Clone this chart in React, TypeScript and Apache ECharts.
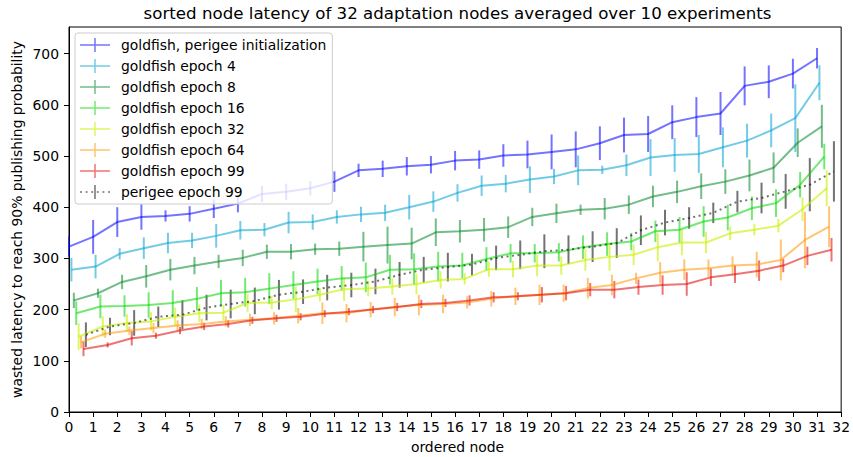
import React, { useEffect, useRef } from "react";
import * as echarts from "echarts";

const seriesNames = [
  "goldfish, perigee initialization",
  "goldfish epoch 4",
  "goldfish epoch 8",
  "goldfish epoch 16",
  "goldfish epoch 32",
  "goldfish epoch 64",
  "goldfish epoch 99",
  "perigee epoch 99",
];

const blueVals = [323,342,371,381,383,387,397,407,426,430,437,450,472,475,480,483,491,493,501,503,508,513,525,541,543,566,576,583,637,645,661,691];
const blueErr = [20,33,29,25,11,15,18,17,16,16,14,20,13,16,18,17,19,18,22,27,34,35,33,34,35,33,39,42,38,32,29,20];

const cyanVals = [278,284,309,320,330,335,344,355,356,370,371,381,386,389,400,411,428,442,446,454,460,472,473,482,497,502,504,517,530,550,574,643];
const cyanErr = [23,23,11,21,20,15,23,18,13,21,15,13,15,16,24,20,17,20,17,26,15,29,8,21,36,33,37,39,33,33,66,34];

const green8Vals = [218,232,254,265,278,286,294,301,313,313,318,319,323,326,329,351,353,356,361,381,388,395,397,405,421,430,441,450,462,477,526,558];
const green8Err = [15,9,14,22,21,17,13,16,14,15,11,14,29,36,31,27,22,23,21,18,19,10,21,18,21,22,25,24,31,30,28,42];

const limeVals = [193,206,207,209,213,221,232,234,241,248,255,261,263,278,279,284,286,299,310,310,312,322,328,333,353,356,372,380,398,408,444,499];
const limeErr = [23,23,21,25,25,23,26,28,30,27,25,24,29,29,31,29,25,23,18,18,18,23,23,17,21,25,30,25,23,27,25,25];

const yellowVals = [147,167,174,177,186,193,194,213,214,220,229,240,241,245,250,258,260,279,279,286,286,297,303,307,322,331,331,349,356,364,396,437];
const yellowErr = [26,20,17,18,18,17,15,17,13,25,13,23,15,16,20,17,11,15,16,21,18,21,27,20,28,25,21,13,11,13,23,35];

const orangeVals = [136,153,159,164,169,172,177,180,183,188,193,193,200,205,209,211,214,221,226,229,232,242,248,261,272,278,281,286,288,297,336,362];
const orangeErr = [12,8,8,10,10,10,10,12,12,15,21,18,15,18,20,18,12,15,17,20,17,20,20,11,21,20,17,18,25,40,55,40];

const redVals = [123,131,144,149,159,167,172,179,183,186,192,196,200,205,211,213,218,224,226,229,232,239,239,244,248,250,263,269,276,286,305,317];
const redErr = [14,5,14,6,7,7,7,7,7,7,7,7,7,8,8,8,10,10,8,15,14,13,17,15,19,23,17,17,20,13,18,23];

const grayVals = [151,167,174,186,190,204,211,217,229,235,243,248,255,268,278,283,288,301,307,314,317,323,330,355,370,379,389,411,418,431,444,470];
const grayErr = [24,17,25,20,28,25,28,26,29,24,25,24,25,25,25,28,21,24,28,33,28,30,29,29,25,21,20,21,30,34,52,59];

const xTicks = Array.from({ length: 33 }, (_, i) => i);
const yTicks = [0, 100, 200, 300, 400, 500, 600, 700];

const allVals = [blueVals, cyanVals, green8Vals, limeVals, yellowVals, orangeVals, redVals, grayVals];
const allErr = [blueErr, cyanErr, green8Err, limeErr, yellowErr, orangeErr, redErr, grayErr];

const colors = [
  "rgba(0,0,255,0.55)",
  "rgba(0,160,210,0.55)",
  "rgba(0,135,40,0.55)",
  "rgba(0,215,0,0.55)",
  "rgba(200,240,0,0.6)",
  "rgba(255,150,0,0.55)",
  "rgba(225,0,0,0.55)",
  "rgba(0,0,0,0.55)",
];

const FONT = "DejaVu Sans";

const solidIcon = "path://M0,6.25H30V7.75H0Z M14.25,0H15.75V14H14.25Z";
const dottedIcon =
  "path://M0,6.25h2v1.5h-2Z M5.6,6.25h2v1.5h-2Z M11.2,6.25h2v1.5h-2Z M16.8,6.25h2v1.5h-2Z M22.4,6.25h2v1.5h-2Z M28,6.25h2v1.5h-2Z M14.25,0H15.75V14H14.25Z";

export default function App() {
  const ref = useRef<HTMLDivElement>(null);

  useEffect(() => {
    if (!ref.current) return;
    const chart = echarts.init(ref.current, undefined, { renderer: "svg" });

    const series: any[] = [];
    seriesNames.forEach((name, k) => {
      const off = 0.1 * k;
      const vals = allVals[k];
      const errs = allErr[k];
      const color = colors[k];
      const lineData = vals.map((v, i) => [i + off, v]);
      const errData = vals.map((v, i) => [i + off, v, errs[i]]);
      series.push({
        type: "line",
        name,
        data: lineData,
        color,
        symbol: "none",
        showSymbol: false,
        lineStyle: {
          width: 2,
          color,
          type: k === 7 ? [2, 3.5] : "solid",
          cap: "butt",
        },
        itemStyle: { color },
        z: 2,
      });
      series.push({
        type: "custom",
        name,
        data: errData,
        encode: { x: 0, y: 1 },
        z: 2,
        renderItem: (params: any, api: any) => {
          const x = api.value(0);
          const y = api.value(1);
          const e = api.value(2);
          const top = api.coord([x, y + e]);
          const bot = api.coord([x, y - e]);
          return {
            type: "line",
            shape: { x1: top[0], y1: top[1], x2: bot[0], y2: bot[1] },
            style: { stroke: color, lineWidth: 2 },
          };
        },
      });
    });

    chart.setOption({
      animation: false,
      textStyle: { fontFamily: FONT },
      grid: {
        left: 69,
        right: 7,
        top: 27,
        bottom: 45,
        show: true,
        borderColor: "#000",
        borderWidth: 1,
        backgroundColor: "transparent",
      },
      xAxis: {
        type: "value",
        min: 0,
        max: 32,
        interval: 1,
        axisLine: { show: true, onZero: false, lineStyle: { color: "#000", width: 1 } },
        axisTick: { show: true, length: 5, lineStyle: { color: "#000" }, customValues: xTicks },
        axisLabel: { color: "#000", fontSize: 13.9, fontFamily: FONT, margin: 8, customValues: xTicks },
        splitLine: { show: false },
      },
      yAxis: {
        type: "value",
        min: 0,
        max: 752,
        interval: 100,
        axisLine: { show: true, onZero: false, lineStyle: { color: "#000", width: 1 } },
        axisTick: { show: true, length: 5, lineStyle: { color: "#000" }, customValues: yTicks },
        axisLabel: { color: "#000", fontSize: 13.9, fontFamily: FONT, margin: 10, customValues: yTicks },
        splitLine: { show: false },
      },
      legend: {
        orient: "vertical",
        left: 75,
        top: 33,
        itemWidth: 30,
        itemHeight: 14,
        itemGap: 7,
        padding: [5, 6, 5, 5],
        backgroundColor: "rgba(255,255,255,0.8)",
        borderColor: "#cccccc",
        borderWidth: 1,
        borderRadius: 3,
        selectedMode: false,
        itemStyle: { borderWidth: 0 },
        textStyle: { fontSize: 13.9, fontFamily: FONT, color: "#000", lineHeight: 14, padding: [0, 0, 0, 6] },
        data: seriesNames.map((name, k) => ({ name, icon: k === 7 ? dottedIcon : solidIcon })),
      },
      graphic: [
        {
          type: "text",
          x: 457.5,
          y: 13.5,
          style: {
            text: "sorted node latency of 32 adaptation nodes averaged over 10 experiments",
            fontSize: 16.67,
            fontFamily: FONT,
            fill: "#000",
            textAlign: "center",
            textVerticalAlign: "middle",
          },
        },
        {
          type: "text",
          x: 457.5,
          y: 447,
          style: {
            text: "ordered node",
            fontSize: 13.9,
            fontFamily: FONT,
            fill: "#000",
            textAlign: "center",
            textVerticalAlign: "middle",
          },
        },
        {
          type: "text",
          x: 17,
          y: 219.5,
          rotation: Math.PI / 2,
          style: {
            text: "wasted latency to reach 90% publishing probability",
            fontSize: 13.9,
            fontFamily: FONT,
            fill: "#000",
            textAlign: "center",
            textVerticalAlign: "middle",
          },
        },
      ],
      series,
    });

    return () => chart.dispose();
  }, []);

  return (
    <div
      ref={ref}
      style={{ position: "absolute", left: 0, top: 0, width: 853, height: 457 }}
    />
  );
}
